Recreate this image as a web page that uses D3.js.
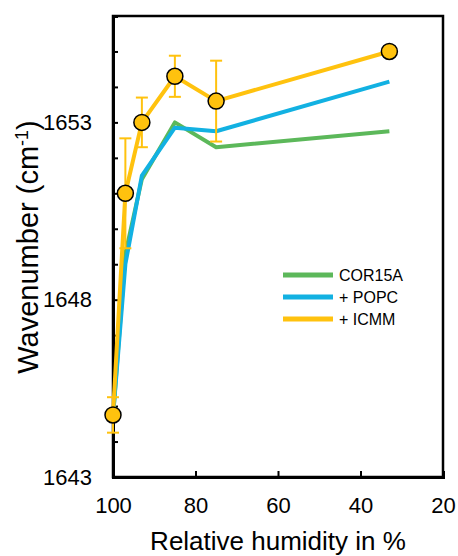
<!DOCTYPE html>
<html>
<head>
<meta charset="utf-8">
<script src="https://cdn.jsdelivr.net/npm/d3@7"></script>
<style>
    body { margin: 0; background: white; }
    text { font-family: "Liberation Sans", Arial, sans-serif; fill: #000; }
</style>
</head>
<body>
<script>
// Data
const humidity = [100, 97, 93, 85, 75, 33];
const cor15a = [1644.7, 1649.3, 1651.4, 1653.0, 1652.3, 1652.75];
const popc = [1644.7, 1649.0, 1651.5, 1652.85, 1652.75, 1654.15];
const icmm = [1644.75, 1651.0, 1653.0, 1654.3, 1653.6, 1655.0];
const icmmErr = [0.5, 1.55, 0.7, 0.58, 1.14, 0];
const seriesNames = ["COR15A", "+ POPC", "+ ICMM"];
const seriesColors = ["#5cb85a", "#12b1e2", "#ffc20e"];
const xTicks = [100, 80, 60, 40, 20];
const yLabels = [1643, 1648, 1653];

const W = 458, H = 556;
const margin = {left: 113, top: 16, right: 15, bottom: 79};
const width = W - margin.left - margin.right;
const height = H - margin.top - margin.bottom;

const svg = d3.select("body").append("svg")
    .attr("width", W)
    .attr("height", H);

const g = svg.append("g")
    .attr("transform", `translate(${margin.left}, ${margin.top})`);

// Scales
const x = d3.scaleLinear().domain([100, 20]).range([0, width]);
const y = d3.scaleLinear().domain([1643, 1656]).range([height, 0]);

// Frame
g.append("rect")
    .attr("width", width)
    .attr("height", height)
    .attr("fill", "none")
    .attr("stroke", "#000")
    .attr("stroke-width", 2.5);

// Left axis: ticks every unit, pointing inward, labels only on some
const yAxis = g.append("g")
    .call(d3.axisLeft(y).tickValues(d3.range(1643, 1657)).tickSize(-5)
        .tickFormat((d) => {return yLabels.includes(d) ? d : ""}));
yAxis.select(".domain").attr("stroke-width", 3);
yAxis.selectAll(".tick line").attr("stroke-width", 2);
yAxis.selectAll("text")
    .attr("x", -21)
    .style("font-size", "22px")
    .style("font-family", "'Liberation Sans', Arial, sans-serif");

// Bottom axis
const xAxis = g.append("g")
    .attr("transform", `translate(0, ${height})`)
    .call(d3.axisBottom(x).tickValues(xTicks).tickSize(-6).tickFormat(d3.format("d")));
xAxis.select(".domain").attr("stroke-width", 3);
xAxis.selectAll(".tick line").attr("stroke-width", 2);
xAxis.selectAll("text")
    .attr("y", 20)
    .style("font-size", "22px")
    .style("font-family", "'Liberation Sans', Arial, sans-serif");

// Lines
const line = d3.line()
    .x((d, i) => {return x(humidity[i])})
    .y((d) => {return y(d)});

[cor15a, popc, icmm].forEach((s, k) => {
    g.append("path")
        .datum(s)
        .attr("d", line)
        .attr("fill", "none")
        .attr("stroke", seriesColors[k])
        .attr("stroke-width", 4)
        .attr("stroke-linejoin", "round");
});

// Error bars for ICMM
const eb = g.append("g")
    .attr("stroke", seriesColors[2])
    .attr("stroke-width", 2);
icmm.forEach((v, i) => {
    const e = icmmErr[i];
    if (!e) return;
    const cx = x(humidity[i]);
    eb.append("line").attr("x1", cx).attr("x2", cx)
        .attr("y1", y(v - e)).attr("y2", y(v + e));
    [v - e, v + e].forEach((c) => {
        eb.append("line").attr("x1", cx - 6).attr("x2", cx + 6)
            .attr("y1", y(c)).attr("y2", y(c));
    });
});

// Markers
g.selectAll("circle")
    .data(icmm)
    .enter().append("circle")
        .attr("cx", (d, i) => {return x(humidity[i])})
        .attr("cy", (d) => {return y(d)})
        .attr("r", 8)
        .attr("fill", seriesColors[2])
        .attr("stroke", "#000")
        .attr("stroke-width", 1.5);

// Legend
const legend = g.append("g")
    .attr("transform", `translate(${283 - margin.left}, ${275 - margin.top})`);
seriesNames.forEach((name, i) => {
    legend.append("line")
        .attr("x1", 0).attr("x2", 50)
        .attr("y1", i * 22).attr("y2", i * 22)
        .attr("stroke", seriesColors[i])
        .attr("stroke-width", 5);
    legend.append("text")
        .attr("x", 56)
        .attr("y", i * 22 + 6)
        .style("font-size", "16px")
        .text(name);
});

// Axis titles
svg.append("text")
    .attr("x", margin.left + width / 2)
    .attr("y", 550)
    .attr("text-anchor", "middle")
    .style("font-size", "26px")
    .text("Relative humidity in %");

const yt = svg.append("text")
    .attr("transform", `translate(38, 247) rotate(-90)`)
    .attr("text-anchor", "middle")
    .style("font-size", "29px");
yt.append("tspan").text("Wavenumber (cm");
yt.append("tspan").attr("dy", -10).style("font-size", "18px").text("-1");
yt.append("tspan").attr("dy", 10).text(")");
</script>
</body>
</html>
